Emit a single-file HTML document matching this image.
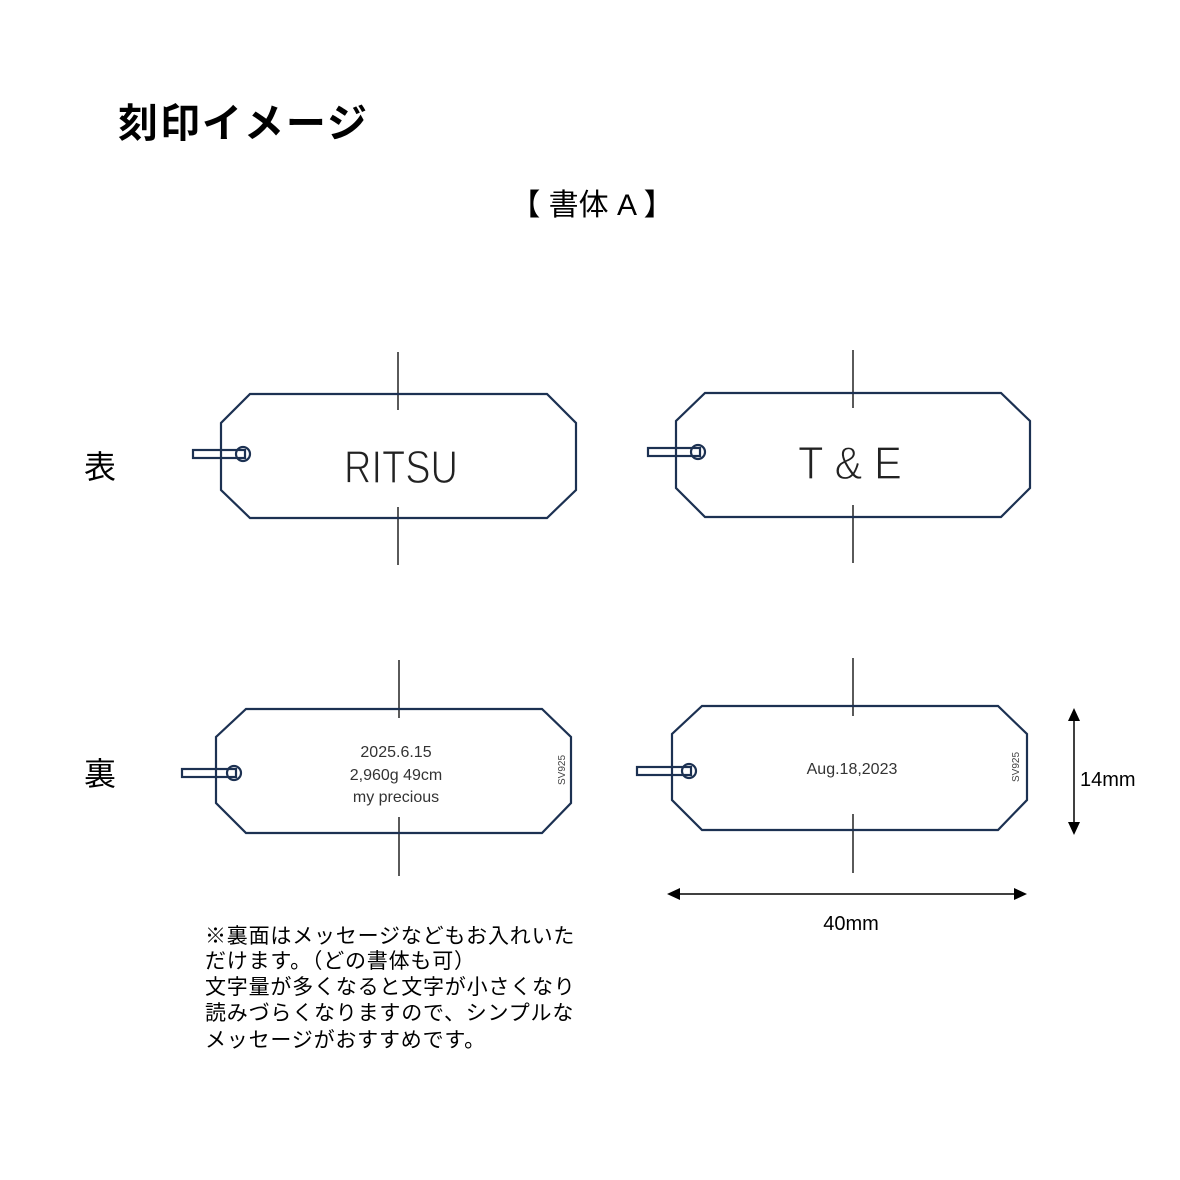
<!DOCTYPE html>
<html><head><meta charset="utf-8"><style>
html,body{margin:0;padding:0;background:#fff;}
svg{display:block;}
text{font-family:"Liberation Sans","Noto Sans CJK JP",sans-serif;}
</style></head><body>
<svg width="1180" height="1180" viewBox="0 0 1180 1180" xmlns="http://www.w3.org/2000/svg">
<rect width="1180" height="1180" fill="#fff"/>
<text x="118" y="137" font-size="40" font-weight="bold" fill="#000" textLength="249" lengthAdjust="spacing">刻印イメージ</text>
<text x="592" y="215" font-size="30" fill="#000" text-anchor="middle">【 書体 A 】</text>
<text x="100" y="478" font-size="32" fill="#000" text-anchor="middle">表</text>
<text x="100" y="785" font-size="32" fill="#000" text-anchor="middle">裏</text>

<g stroke="#000" stroke-width="1.3">
<line x1="398" y1="352" x2="398" y2="410"/><line x1="398" y1="507" x2="398" y2="565"/>
<line x1="853" y1="350" x2="853" y2="408"/><line x1="853" y1="505" x2="853" y2="563"/>
<line x1="399" y1="660" x2="399" y2="718"/><line x1="399" y1="817" x2="399" y2="876"/>
<line x1="853" y1="658" x2="853" y2="716"/><line x1="853" y1="814" x2="853" y2="873"/>
</g>

<g fill="none" stroke="#1c3152" stroke-width="2.2">
<polygon points="250,394 547,394 576,423 576,490 547,518 250,518 221,490 221,423"/>
<polygon points="705,393 1001,393 1030,421 1030,488 1001,517 705,517 676,488 676,421"/>
<polygon points="246,709 542,709 571,737 571,803 542,833 246,833 216,803 216,737"/>
<polygon points="702,706 998,706 1027,734 1027,800 998,830 702,830 672,800 672,734"/>
<rect x="193" y="450" width="52" height="8"/><circle cx="243" cy="454" r="7"/>
<rect x="648" y="448" width="52" height="8"/><circle cx="698" cy="452" r="7"/>
<rect x="182" y="769" width="54" height="8"/><circle cx="234" cy="773" r="7"/>
<rect x="637" y="767" width="54" height="8"/><circle cx="689" cy="771" r="7"/>
</g>

<g stroke="#fff" stroke-width="1.2" fill="#222">
<text x="344" y="483" font-size="46" textLength="114" lengthAdjust="spacingAndGlyphs">RITSU</text>
<text x="798" y="479" font-size="46" textLength="104" lengthAdjust="spacingAndGlyphs">T &amp; E</text>
</g>
<g font-size="16" fill="#333" text-anchor="middle">
<text x="396" y="757">2025.6.15</text>
<text x="396" y="780">2,960g 49cm</text>
<text x="396" y="802">my precious</text>
<text x="852" y="774">Aug.18,2023</text>
</g>
<text transform="translate(565,770) rotate(-90)" font-size="10" fill="#444" text-anchor="middle">SV925</text>
<text transform="translate(1019,767) rotate(-90)" font-size="10" fill="#444" text-anchor="middle">SV925</text>

<g stroke="#000" stroke-width="1.5" fill="#000">
<line x1="1074" y1="716" x2="1074" y2="827"/>
<polygon points="1074,708 1068,721 1080,721" stroke="none"/>
<polygon points="1074,835 1068,822 1080,822" stroke="none"/>
<line x1="675" y1="894" x2="1019" y2="894"/>
<polygon points="667,894 680,888 680,900" stroke="none"/>
<polygon points="1027,894 1014,888 1014,900" stroke="none"/>
</g>
<text x="1080" y="786" font-size="20" fill="#000">14mm</text>
<text x="851" y="930" font-size="20" fill="#000" text-anchor="middle">40mm</text>

<g font-size="21" fill="#000" letter-spacing="0.8">
<text x="205" y="943">※裏面はメッセージなどもお入れいた</text>
<text x="205" y="968">だけます。（どの書体も可）</text>
<text x="205" y="994">文字量が多くなると文字が小さくなり</text>
<text x="205" y="1020">読みづらくなりますので、シンプルな</text>
<text x="205" y="1047">メッセージがおすすめです。</text>
</g>
</svg>
</body></html>
